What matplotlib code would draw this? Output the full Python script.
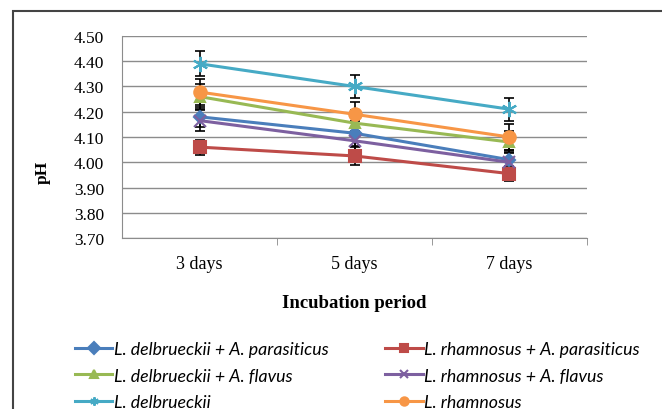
import matplotlib.pyplot as plt
import numpy as np
from matplotlib.patches import Rectangle

# data
days = ["3 days", "5 days", "7 days"]
series_names = [
    "L. delbrueckii + A. parasiticus",
    "L. rhamnosus + A. parasiticus",
    "L. delbrueckii + A. flavus",
    "L. rhamnosus + A. flavus",
    "L. delbrueckii",
    "L. rhamnosus",
]
del_para = [4.18, 4.115, 4.01]
rham_para = [4.06, 4.025, 3.955]
del_flav = [4.26, 4.155, 4.08]
rham_flav = [4.165, 4.085, 4.00]
delb = [4.39, 4.30, 4.21]
rham = [4.278, 4.19, 4.10]

del_para_err = [0.04, 0.05, 0.04]
rham_para_err = [0.03, 0.035, 0.03]
del_flav_err = [0.05, 0.05, 0.045]
rham_flav_err = [0.04, 0.04, 0.04]
delb_err = [0.05, 0.045, 0.045]
rham_err = [0.05, 0.05, 0.05]

values = [del_para, rham_para, del_flav, rham_flav, delb, rham]
errors = [del_para_err, rham_para_err, del_flav_err, rham_flav_err, delb_err, rham_err]
colors = ["#4A7EBB", "#BE4B48", "#98B954", "#7D60A0", "#46AAC5", "#F79646"]
markers = ["D", "s", "^", "x", (6, 2, 0), "o"]
msizes = [6, 8, 7, 8, 11, 9]

fig = plt.figure(figsize=(6.62, 4.10), dpi=100)
ax = fig.add_axes([0.1843, 0.417, 0.7024, 0.4928])

x = np.arange(len(days))
for vals, errs, c, m, ms, name in zip(values, errors, colors, markers, msizes, series_names):
    ax.errorbar(x, vals, yerr=errs, fmt="none", ecolor="black", elinewidth=1.2,
                capsize=3.5, capthick=1.2, zorder=2)
    ax.plot(x, vals, color=c, lw=2.2, marker=m, markersize=ms, markerfacecolor=c,
            markeredgecolor=c, markeredgewidth=1.5, label=name, zorder=3)

ax.set_xlim(-0.5, 2.5)
ax.set_ylim(3.70, 4.50)
yt = np.arange(3.70, 4.51, 0.10)
ax.set_yticks(yt)
ax.set_yticklabels([f"{v:.2f}" for v in yt], fontfamily="Liberation Serif", fontsize=12.5)
ax.set_xticks(x)
ax.set_xticklabels(days, fontfamily="Liberation Serif", fontsize=13)
ax.tick_params(axis="y", length=0, pad=13)
ax.tick_params(axis="x", length=0, pad=12)
ax.set_xticks([0.5, 1.5, 2.5], minor=True)
ax.tick_params(axis="x", which="minor", length=5, color="#888888")
ax.grid(axis="y", color="#8C8C8C", lw=1)
ax.set_axisbelow(True)
for s in ["top", "right"]:
    ax.spines[s].set_visible(False)
for s in ["left", "bottom"]:
    ax.spines[s].set_color("#8C8C8C")

fig.text(43 / 662, 1 - 172 / 410, "pH", rotation=90, ha="center", va="center",
         fontfamily="Liberation Serif", fontweight="bold", fontsize=12.5)
ax.set_xlabel("Incubation period", fontfamily="Liberation Serif", fontweight="bold",
              fontsize=13.5, labelpad=16)

# Excel legend: two columns, filled row by row
handles, labels = ax.get_legend_handles_labels()
order = [0, 2, 4, 1, 3, 5]
leg = fig.legend([handles[i] for i in order], [labels[i] for i in order],
                 loc="upper left", bbox_to_anchor=(75 / 662, 1 - 342 / 410), ncol=2,
                 frameon=False, borderpad=0, borderaxespad=0,
                 handlelength=2.1, handletextpad=0.08, columnspacing=3.2, labelspacing=0.6,
                 prop={"family": "Lato", "style": "italic", "size": 12.8})
for h in leg.legend_handles:
    h.set_markersize(6)

# outer chart border
fig.patches.append(Rectangle((13 / 662, -0.1), 1.2, 1 - 12 / 410 + 0.1,
                             transform=fig.transFigure, fill=False,
                             edgecolor="#444444", lw=1.5))

fig.savefig("out.png", dpi=100)
